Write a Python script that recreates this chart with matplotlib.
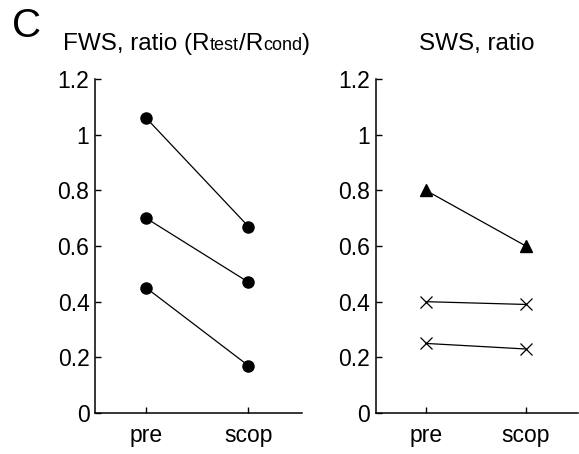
import matplotlib
matplotlib.use("Agg")
import matplotlib.pyplot as plt

plt.rcParams["font.family"] = ["Liberation Sans", "DejaVu Sans"]

conditions = ["pre", "scop"]
yticks = [0, 0.2, 0.4, 0.6, 0.8, 1, 1.2]
ytick_labels = ["0", "0.2", "0.4", "0.6", "0.8", "1", "1.2"]

# FWS ratio per animal (pre, scop)
fws_ratio = [
    [1.06, 0.67],
    [0.70, 0.47],
    [0.45, 0.17],
]
# SWS ratio per animal (pre, scop)
sws_ratio_tri = [
    [0.80, 0.60],
]
sws_ratio_x = [
    [0.40, 0.39],
    [0.25, 0.23],
]


def style_axes(ax):
    ax.set_xlim(-0.5, 1.52)
    ax.set_ylim(0, 1.2)
    ax.set_xticks(range(len(conditions)))
    ax.set_xticklabels(conditions)
    ax.set_yticks(yticks)
    ax.set_yticklabels(ytick_labels)
    for side in ("top", "right"):
        ax.spines[side].set_visible(False)
    for side in ("left", "bottom"):
        ax.spines[side].set_linewidth(1.1)
    ax.tick_params(axis="both", direction="in", length=4.5, width=1.0,
                   labelsize=16.5)
    ax.tick_params(axis="y", pad=4)
    ax.tick_params(axis="x", pad=8)


fig = plt.figure(figsize=(5.79, 4.54), dpi=100)
ax1 = fig.add_axes([0.164, 0.0903, 0.357, 0.7357])
ax2 = fig.add_axes([0.649, 0.0903, 0.349, 0.7357])

xs = range(len(conditions))
for vals in fws_ratio:
    ax1.plot(xs, vals, color="black", lw=0.9, marker="o", ms=8,
             mfc="black", mec="black")
for vals in sws_ratio_tri:
    ax2.plot(xs, vals, color="black", lw=0.9, marker="^", ms=9,
             mfc="black", mec="black")
for vals in sws_ratio_x:
    ax2.plot(xs, vals, color="black", lw=0.9, marker="x", ms=9, mew=0.9,
             mfc="none", mec="black")

style_axes(ax1)
style_axes(ax2)

# panel letter
fig.text(12 / 579, 1 - 37 / 454, "C", fontsize=29, va="baseline", ha="left")

# left title: plain text with smaller inline "test"/"cond"
fig.canvas.draw()
renderer = fig.canvas.get_renderer()
x = 63
base_y = 454 - 50
pieces = [("FWS, ratio (R", 17.5), ("test", 13), ("/R", 17.5),
          ("cond", 13), (")", 17.5)]
for s, size in pieces:
    t = fig.text(x / 579, base_y / 454, s, fontsize=size, va="baseline",
                 ha="left")
    x = t.get_window_extent(renderer).x1

fig.text(477 / 579, base_y / 454, "SWS, ratio", fontsize=17.5,
         va="baseline", ha="center")

fig.savefig("out.png", dpi=100)
